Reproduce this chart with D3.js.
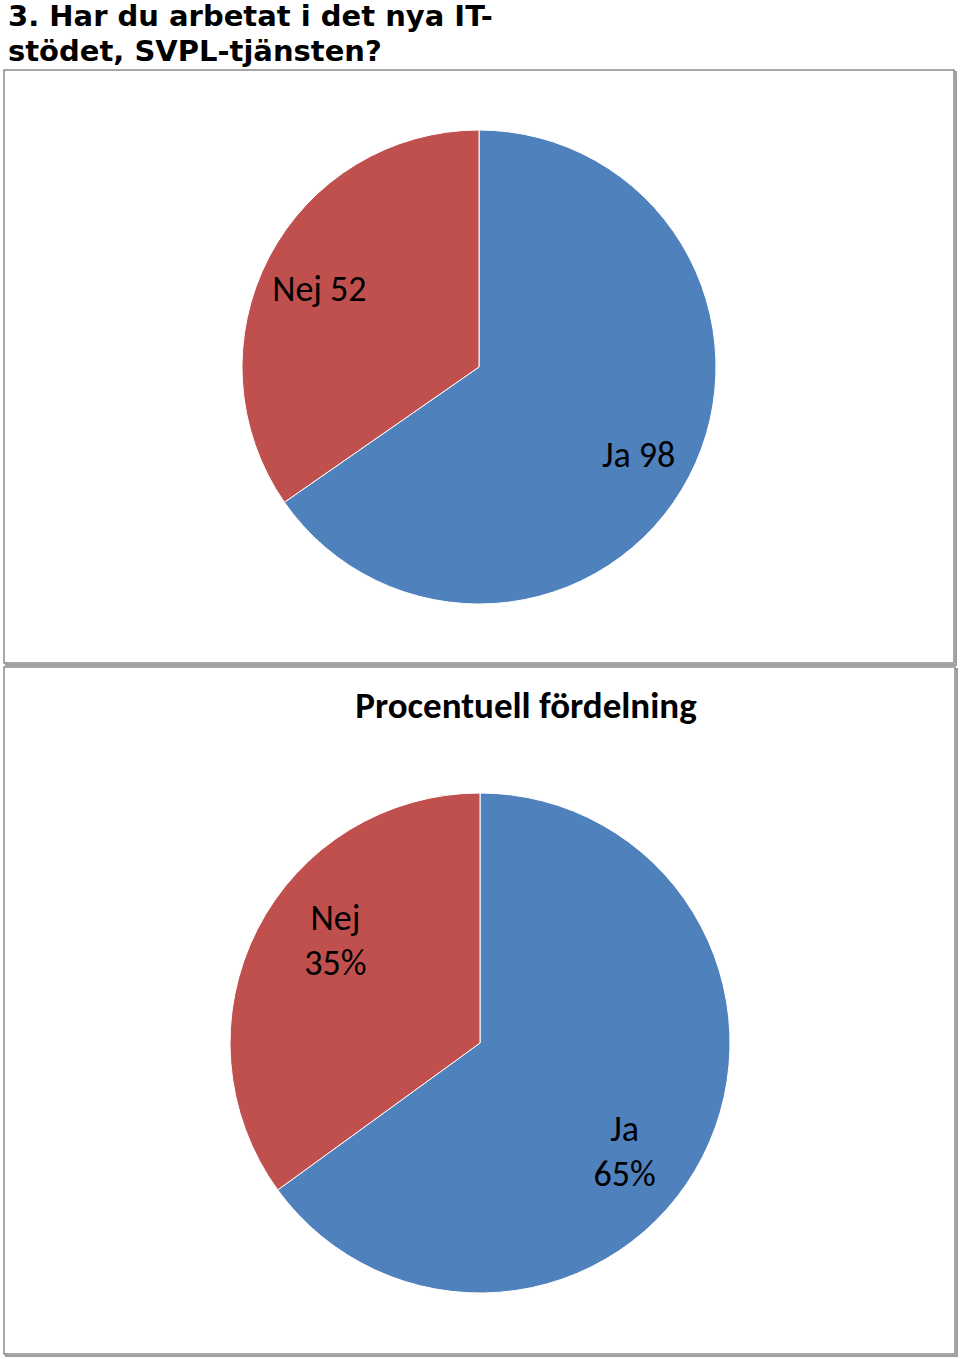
<!DOCTYPE html>
<html><head><meta charset="utf-8">
<script src="https://cdn.jsdelivr.net/npm/d3@7/dist/d3.min.js"></script>
<style>body{margin:0;background:#fff}svg{display:block}</style>
</head><body><svg id="c" width="960" height="1359"></svg>
<script>
const titleLines = ["3. Har du arbetat i det nya IT-", "stödet, SVPL-tjänsten?"];
const categories = ["Ja", "Nej"];
const counts = [98, 52];
const percents = [65, 35];
const chart2Title = "Procentuell fördelning";
const colors = ["#4F81BD", "#C0504D"];

const svg = d3.select("#c");
const labelFont = "Carlito, Calibri, Lato, 'Open Sans', sans-serif";

svg.selectAll("text.title").data(titleLines).enter().append("text")
  .attr("x", 8).attr("y", (d,i)=>26+i*35)
  .attr("font-family","Verdana, 'DejaVu Sans', sans-serif").attr("font-weight","bold")
  .attr("font-size", 29).text(d=>d);

function box(x,y,w,h){
  svg.append("rect").attr("x",x+2).attr("y",y+2).attr("width",w).attr("height",h)
    .attr("fill","none").attr("stroke","#a0a0a0").attr("stroke-width",2);
  svg.append("rect").attr("x",x).attr("y",y).attr("width",w).attr("height",h)
    .attr("fill","#fff").attr("stroke","#8a8a8a").attr("stroke-width",1.5);
}
box(4,70,950,593);
box(4,667,951,687);

const pie = d3.pie().sort(null).value(d=>d);

function drawPie(cx,cy,r,vals,labelFn,labelPos,angleShift,yOff){
  const arc = d3.arc().innerRadius(0).outerRadius(r);
  const g = svg.append("g").attr("transform",`translate(${cx},${cy})`);
  const arcs = pie(vals);
  g.selectAll("path").data(arcs).enter().append("path")
    .attr("d",arc).attr("fill",(d,i)=>colors[i]).attr("stroke","#fff").attr("stroke-width",1);
  arcs.forEach((d,i)=>{
    const a = (d.startAngle+d.endAngle)/2 + angleShift*Math.PI/180;
    const x = Math.sin(a)*r*labelPos, y = -Math.cos(a)*r*labelPos;
    const lines = labelFn(i);
    const t = g.append("text").attr("text-anchor","middle")
      .attr("font-family",labelFont).attr("font-size",36).attr("fill","#000");
    lines.forEach((ln,k)=>{
      t.append("tspan").attr("x",x).attr("y",y+yOff+(k-(lines.length-1)/2)*45).text(ln);
    });
  });
}

drawPie(479,367,237,counts,i=>[categories[i]+" "+counts[i]],0.76,0,17);
svg.append("text").attr("x",526).attr("y",718).attr("text-anchor","middle")
  .attr("font-family",labelFont).attr("font-weight","bold").attr("font-size",37).text(chart2Title);
drawPie(480,1043,250,percents,i=>[categories[i],percents[i]+"%"],0.715,9,15);
</script></body></html>
